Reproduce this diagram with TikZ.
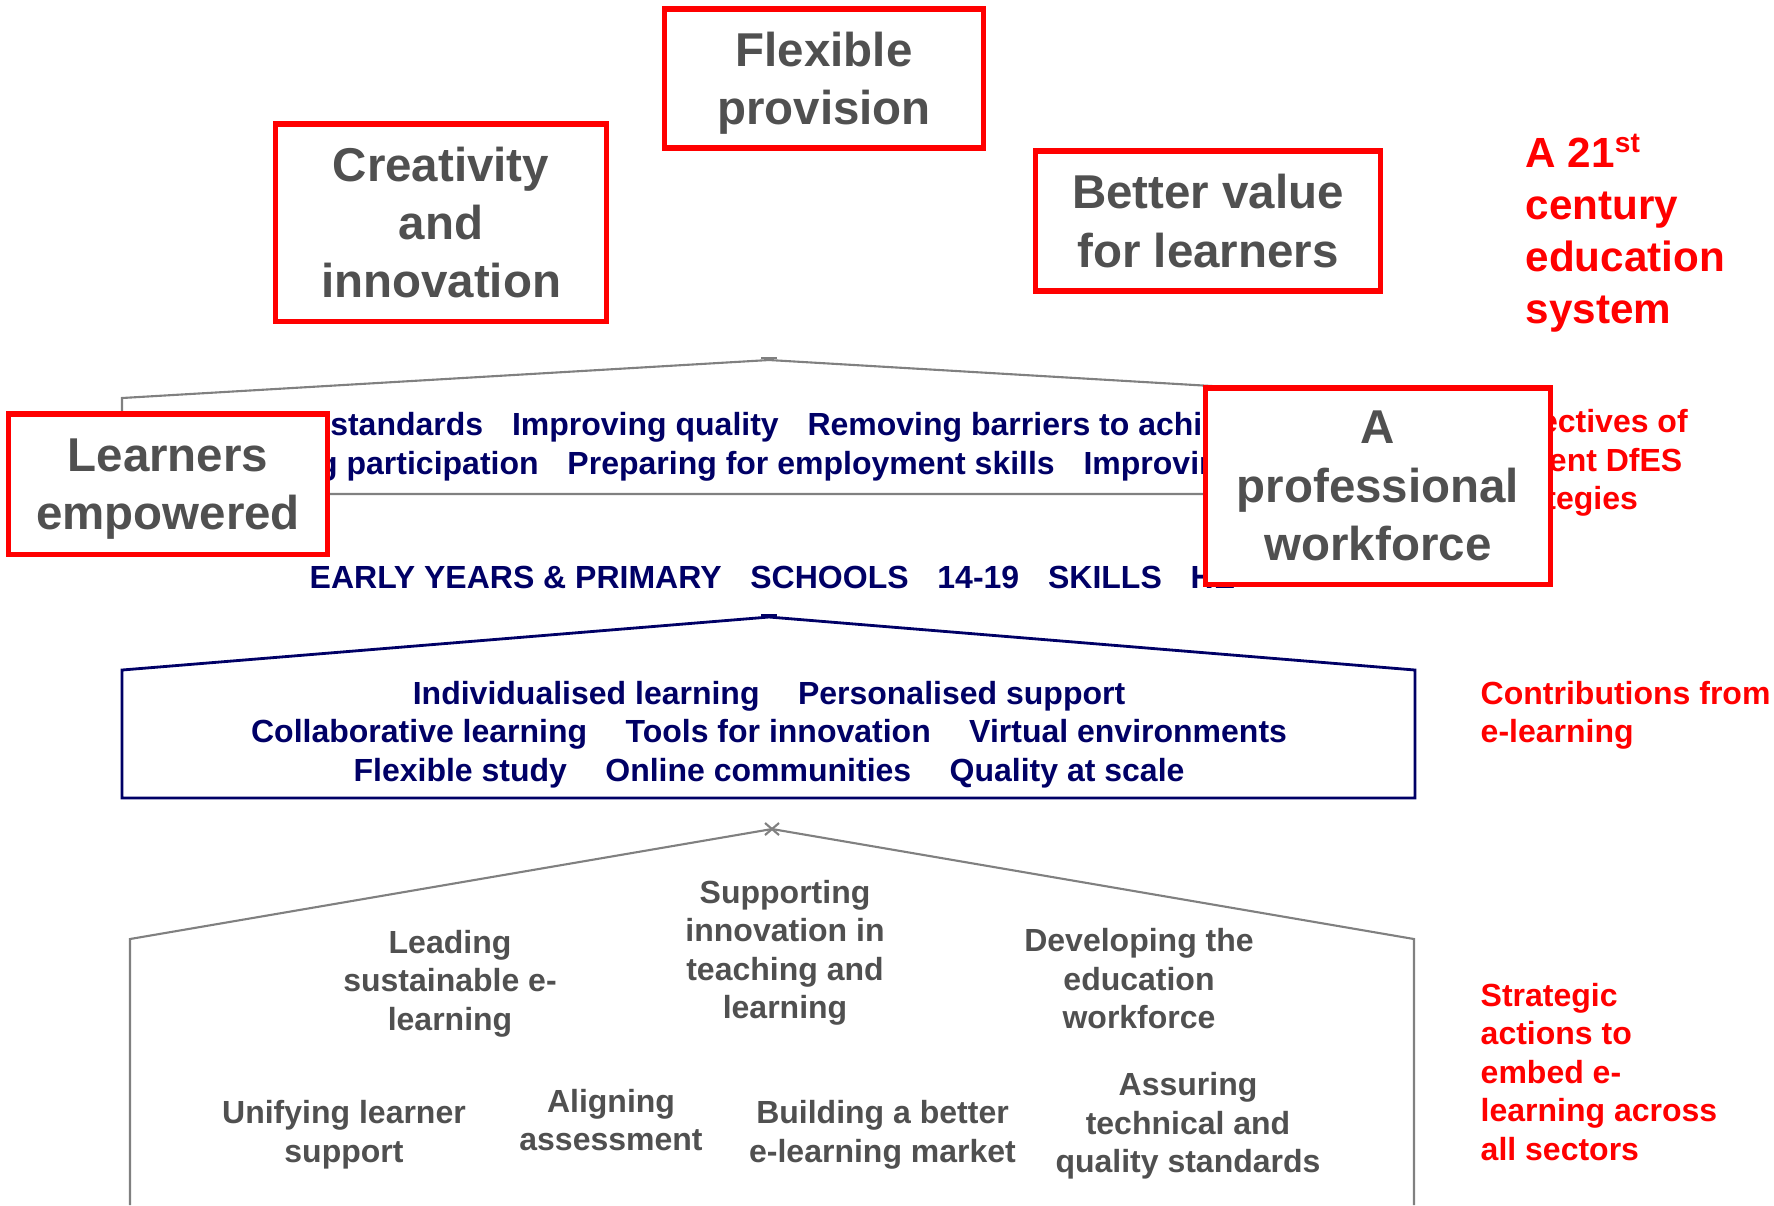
\documentclass[tikz,border=0pt]{standalone}
\usepackage{fontspec}
\setmainfont{Liberation Sans}
\usepackage{xcolor}
\definecolor{PillarRed}{RGB}{255,0,0}
\definecolor{PillarText}{RGB}{80,80,80}
\definecolor{RoofGrey}{RGB}{128,128,128}
\definecolor{ObjectiveNavy}{RGB}{0,0,102}
\usepackage{tikz}
\tikzset{
	pillar/.style={draw=PillarRed, line width=1.6pt, fill=white, align=center, text=PillarText, inner sep=0pt, font=\bfseries\fontsize{13.5}{16.6}\selectfont},
	objective/.style={text=ObjectiveNavy, inner sep=0pt, anchor=base, font=\bfseries\fontsize{9.1}{10.95}\selectfont},
	action/.style={text=PillarText, align=center, inner sep=0pt, anchor=base, font=\bfseries\fontsize{9.1}{10.95}\selectfont},
	level/.style={text=PillarRed, align=left, inner sep=0pt, anchor=base west, font=\bfseries\fontsize{9.1}{10.95}\selectfont},
	roof/.style={draw=RoofGrey, line width=0.6pt}
}
\newcommand\gap{\hspace{0.9em}}
\newcommand\widegap{\hspace{1.2em}}

\begin{document}
\begin{tikzpicture}[x=0.01cm, y=-0.01cm]
	\useasboundingbox (0,0) rectangle (1774,1205);
	\draw[roof] (122,494) -- (122,398) -- (769,360) -- (1416,398) -- (1416,494) -- cycle;
	\draw[roof] (761,358) -- (777,358);
	\draw[ObjectiveNavy, line width=0.8pt] (122,798) -- (122,670) -- (769,617) -- (1415,670) -- (1415,798) -- cycle;
	\draw[ObjectiveNavy, line width=0.8pt] (761,615) -- (777,615);
	\draw[roof] (130,1205) -- (130,939) -- (772,829) -- (1414,939) -- (1414,1205);
	\draw[roof] (765,823) -- (779,835) (765,835) -- (779,823);
	\node[objective] (raising) at (769,435.5) {Raising standards\gap Improving quality\gap Removing barriers to achievement};
	\node[objective, anchor=base west] (participation) at (177,474.5) {Increasing participation\gap Preparing for employment skills\gap Improving};
	\node[objective, anchor=base west] (sectors) at (309,588.5) {EARLY YEARS \& PRIMARY\gap SCHOOLS\gap 14-19\gap SKILLS\gap HE};
	\node[objective, align=center] (elearning) at (769,781) {Individualised learning\widegap Personalised support\\Collaborative learning\widegap Tools for innovation\widegap Virtual environments\\Flexible study\widegap Online communities\widegap Quality at scale};
	\node[action] (leading) at (450,1030) {Leading\\sustainable e-\\learning};
	\node[action] (supporting) at (785,1018.5) {Supporting\\innovation in\\teaching and\\learning};
	\node[action] (developing) at (1139,1028.5) {Developing the\\education\\workforce};
	\node[action] (unifying) at (344,1162) {Unifying learner\\support};
	\node[action] (aligning) at (611,1150.5) {Aligning\\assessment};
	\node[action] (market) at (882.5,1162) {Building a better\\e-learning market};
	\node[action] (assuring) at (1188,1172.5) {Assuring\\technical and\\quality standards};
	\node[level, font=\bfseries\fontsize{12}{14.8}\selectfont] (century) at (1525,323.8) {A 21\textsuperscript{st}\\century\\education\\system};
	\node[level] (dfes) at (1486,509.5) {Objectives of\\current DfES\\strategies};
	\node[level] (contributions) at (1480,742.5) {Contributions from\\e-learning};
	\node[level] (strategic) at (1480,1160) {Strategic\\actions to\\embed e-\\learning across\\all sectors};
	\node[pillar, minimum width=3.185cm, minimum height=1.395cm] (flexible) at (824,78.5) {Flexible\\\smash{provision}};
	\node[pillar, minimum width=3.31cm, minimum height=1.975cm] (creativity) at (441,222.5) {Creativity\\and\\innovation};
	\node[pillar, minimum width=3.445cm, minimum height=1.405cm] (value) at (1208,221) {Better value\\for learners};
	\node[pillar, minimum width=3.185cm, minimum height=1.405cm] (learners) at (168,484) {Learners\\\smash{empowered}};
	\node[pillar, minimum width=3.445cm, minimum height=1.965cm] (workforce) at (1378,486) {A\\professional\\workforce};
\end{tikzpicture}
\end{document}
